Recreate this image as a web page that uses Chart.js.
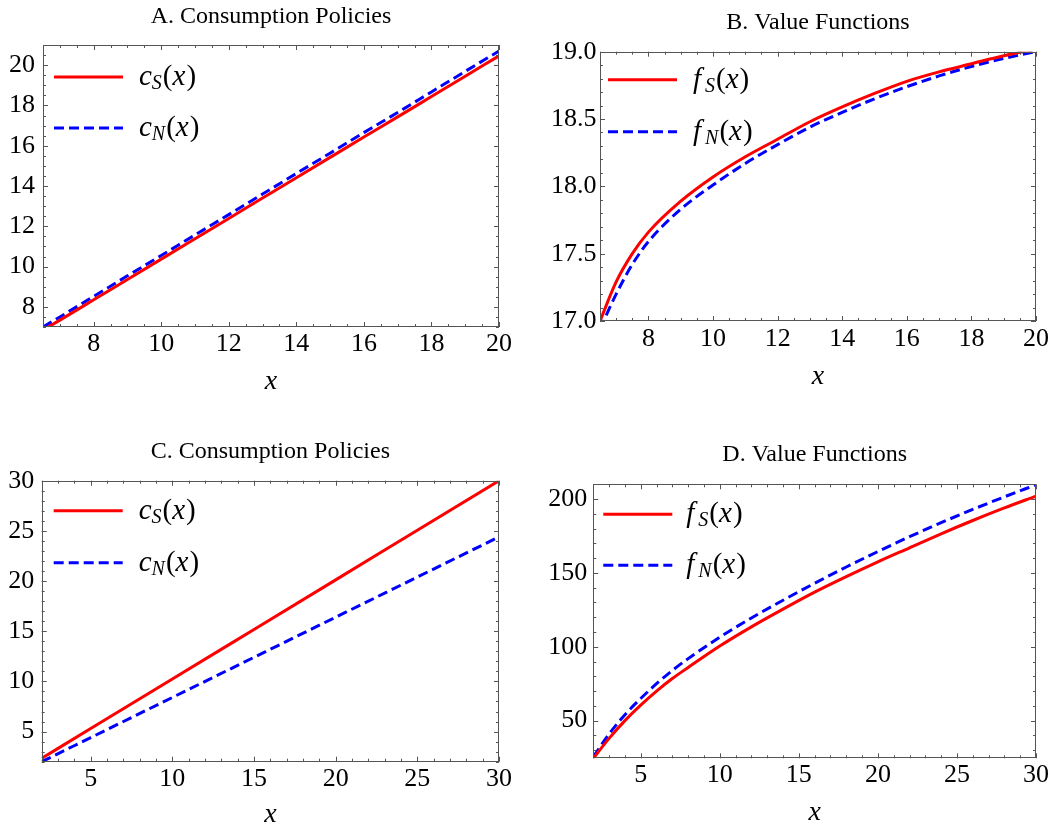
<!DOCTYPE html>
<html>
<head>
<meta charset="utf-8">
<script src="https://cdn.jsdelivr.net/npm/chart.js@4.4.1/dist/chart.umd.min.js"></script>
<style>
  html, body { margin: 0; padding: 0; background: #fff; }
  #wrap { position: relative; width: 1052px; height: 829px; }
  canvas { position: absolute; }
</style>
</head>
<body>
<div id="wrap">
  <canvas id="chartA" width="526" height="414" style="left:0;top:0"></canvas>
  <canvas id="chartB" width="526" height="414" style="left:526px;top:0"></canvas>
  <canvas id="chartC" width="526" height="415" style="left:0;top:414px"></canvas>
  <canvas id="chartD" width="526" height="415" style="left:526px;top:414px"></canvas>
</div>
<script>
// A. consumption policies, small x range
const xA = [6.5, 7, 8, 9, 10, 11, 12, 13, 14, 15, 16, 17, 18, 19, 20];
const cS_A = [6.84, 7.34, 8.35, 9.36, 10.37, 11.38, 12.39, 13.40, 14.41, 15.42, 16.43, 17.43, 18.44, 19.45, 20.46];
const cN_A = [7.00, 7.50, 8.52, 9.54, 10.55, 11.57, 12.58, 13.60, 14.62, 15.63, 16.65, 17.65, 18.67, 19.69, 20.70];
const ticksA_x = [8, 10, 12, 14, 16, 18, 20];
const ticksA_y = [8, 10, 12, 14, 16, 18, 20];

// B. value functions, small x range
const xB = [6.5, 7, 7.5, 8, 9, 10, 11, 12, 13, 14, 15, 16, 17, 18, 19, 20];
const fS_B = [17.00, 17.29, 17.50, 17.66, 17.89, 18.07, 18.22, 18.35, 18.48, 18.59, 18.69, 18.78, 18.85, 18.91, 18.97, 19.02];
const fN_B = [16.94, 17.20, 17.42, 17.59, 17.83, 18.01, 18.17, 18.31, 18.44, 18.55, 18.65, 18.74, 18.82, 18.89, 18.95, 19.00];
const ticksB_x = [8, 10, 12, 14, 16, 18, 20];
const ticksB_y = [17.0, 17.5, 18.0, 18.5, 19.0];

// C. consumption policies, wide x range
const xC = [2, 5, 10, 15, 20, 25, 30];
const cS_C = [2.34, 5.30, 10.24, 15.18, 20.12, 25.06, 30.00];
const cN_C = [2.00, 4.40, 8.40, 12.40, 16.40, 20.40, 24.40];
const ticksC_x = [5, 10, 15, 20, 25, 30];
const ticksC_y = [5, 10, 15, 20, 25, 30];

// D. value functions, wide x range
const xD = [2, 3, 4, 5, 6, 7, 8, 10, 12, 14, 16, 18, 20, 22, 24, 26, 28, 30];
const fS_D = [24.5, 38, 50, 60.5, 70, 78.5, 86, 100.5, 113.5, 125.5, 137, 147.5, 157.5, 167, 176.5, 185.5, 194, 202];
const fN_D = [25.5, 41, 54, 65, 75, 84, 92, 106.5, 119.5, 131.5, 143, 154, 164.5, 174.5, 184, 193, 201.5, 209.7];
const ticksD_x = [5, 10, 15, 20, 25, 30];
const ticksD_y = [50, 100, 150, 200];

const SERIF = "'Liberation Serif', serif";
Chart.defaults.font.family = SERIF;
Chart.defaults.color = '#000';

const FRAME = '#555';

// frame on all four sides with inward major/minor ticks (Mathematica style)
const frameTicks = {
  id: 'frameTicks',
  afterDatasetsDraw(chart, args, opts) {
    const { ctx, chartArea: a, scales: { x, y } } = chart;
    ctx.save();
    ctx.strokeStyle = FRAME;
    ctx.lineWidth = 1;
    ctx.strokeRect(Math.round(a.left) + 0.5, Math.round(a.top) + 0.5,
                   Math.round(a.width) - 1, Math.round(a.height) - 1);
    const marks = (scale, step) => {
      const out = [];
      const majors = scale.ticks.map(t => t.value);
      const k0 = Math.ceil(scale.min / step - 1e-6), k1 = Math.floor(scale.max / step + 1e-6);
      for (let k = k0; k <= k1; k++) {
        const v = k * step;
        const major = majors.some(m => Math.abs(m - v) < step * 0.01);
        out.push({ p: Math.round(scale.getPixelForValue(v)) + 0.5, len: major ? 5 : 3 });
      }
      return out;
    };
    ctx.beginPath();
    marks(x, opts.xMinor).forEach(m => {
      ctx.moveTo(m.p, a.bottom); ctx.lineTo(m.p, a.bottom - m.len);
      ctx.moveTo(m.p, a.top); ctx.lineTo(m.p, a.top + m.len);
    });
    marks(y, opts.yMinor).forEach(m => {
      ctx.moveTo(a.left, m.p); ctx.lineTo(a.left + m.len, m.p);
      ctx.moveTo(a.right, m.p); ctx.lineTo(a.right - m.len, m.p);
    });
    ctx.stroke();
    ctx.restore();
  }
};

// legend with subscripts, drawn inside the frame
const mathLegend = {
  id: 'mathLegend',
  afterDraw(chart, args, opts) {
    const { ctx, chartArea: a } = chart;
    chart.data.datasets.forEach((ds, i) => {
      const y = a.top + opts.rows[i];
      const x0 = a.left + opts.lineX;
      ctx.save();
      ctx.strokeStyle = ds.borderColor;
      ctx.lineWidth = ds.borderWidth;
      ctx.setLineDash(ds.borderDash || []);
      ctx.beginPath();
      ctx.moveTo(x0, y);
      ctx.lineTo(x0 + opts.lineLen, y);
      ctx.stroke();
      ctx.setLineDash([]);
      ctx.fillStyle = '#000';
      ctx.textBaseline = 'alphabetic';
      ctx.textAlign = 'left';
      const base = y + 8;
      let tx = a.left + opts.textX;
      ctx.font = 'italic 29px ' + SERIF;
      ctx.fillText(ds.sym, tx, base);
      tx += ctx.measureText(ds.sym).width + (ds.sym === 'f' ? 4 : 0);
      ctx.font = 'italic 20px ' + SERIF;
      ctx.fillText(ds.sub, tx, base + 4);
      tx += ctx.measureText(ds.sub).width + 1;
      ctx.font = '29px ' + SERIF;
      ctx.fillText('(', tx, base);
      tx += ctx.measureText('(').width;
      ctx.font = 'italic 29px ' + SERIF;
      ctx.fillText('x', tx, base);
      tx += ctx.measureText('x').width + 1;
      ctx.font = '29px ' + SERIF;
      ctx.fillText(')', tx, base);
      ctx.restore();
    });
  }
};

function panel(id, p) {
  const pts = (xs, ys) => xs.map((v, i) => ({ x: v, y: ys[i] }));
  return new Chart(document.getElementById(id), {
    type: 'line',
    data: {
      datasets: [
        {
          data: pts(p.xs, p.s), sym: p.sym, sub: 'S',
          borderColor: '#ff0000', borderWidth: 3,
          pointRadius: 0, cubicInterpolationMode: 'monotone', fill: false
        },
        {
          data: pts(p.xs, p.n), sym: p.sym, sub: 'N',
          borderColor: '#0000ff', borderWidth: 3, borderDash: [10, 5],
          pointRadius: 0, cubicInterpolationMode: 'monotone', fill: false
        }
      ]
    },
    options: {
      responsive: false,
      animation: false,
      layout: { padding: { left: 0, top: 0, right: p.padRight, bottom: 0 } },
      scales: {
        x: {
          type: 'linear', min: p.xMin, max: p.xMax,
          afterBuildTicks: s => { s.ticks = p.xTicks.map(v => ({ value: v })); },
          afterFit: s => { s.height = p.xHeight; },
          grid: { display: false, drawTicks: false },
          border: { display: false },
          ticks: { autoSkip: false, maxRotation: 0, padding: p.xTickPad,
                   font: { family: SERIF, size: 26 } },
          title: {
            display: true, text: 'x',
            font: { family: SERIF, size: 28, style: 'italic', lineHeight: 1 },
            padding: { top: 0, bottom: p.xTitlePad }
          }
        },
        y: {
          type: 'linear', min: p.yMin, max: p.yMax,
          afterBuildTicks: s => { s.ticks = p.yTicks.map(v => ({ value: v })); },
          afterFit: s => { s.width = p.yWidth; },
          grid: { display: false, drawTicks: false },
          border: { display: false },
          ticks: {
            autoSkip: false, padding: p.yTickPad, font: { family: SERIF, size: 26 },
            callback: v => p.yFmt ? v.toFixed(p.yFmt) : String(v)
          }
        }
      },
      plugins: {
        legend: { display: false },
        tooltip: { enabled: false },
        title: {
          display: true, text: p.title, color: '#000', fullSize: false,
          font: { family: SERIF, size: 24, weight: 'normal', lineHeight: 1.2 },
          padding: { top: p.titleTop, bottom: p.titleBottom }
        },
        frameTicks: { xMinor: p.xMinor, yMinor: p.yMinor },
        mathLegend: p.legend
      }
    },
    plugins: [frameTicks, mathLegend]
  });
}

panel('chartA', {
  title: 'A. Consumption Policies', sym: 'c',
  xs: xA, s: cS_A, n: cN_A,
  xMin: 6.5, xMax: 20, yMin: 7, yMax: 21,
  xTicks: ticksA_x, yTicks: ticksA_y, xMinor: 0.5, yMinor: 0.5,
  padRight: 27, yWidth: 43, xHeight: 87,
  xTickPad: 2, yTickPad: 8, xTitlePad: 18,
  titleTop: 2.6, titleBottom: 13.6,
  legend: { lineX: 11, lineLen: 69, textX: 96, rows: [32, 83] }
});

panel('chartB', {
  title: 'B. Value Functions', sym: 'f', yFmt: 1,
  xs: xB, s: fS_B, n: fN_B,
  xMin: 6.5, xMax: 20, yMin: 17, yMax: 19,
  xTicks: ticksB_x, yTicks: ticksB_y, xMinor: 0.5, yMinor: 0.1,
  padRight: 16, yWidth: 74, xHeight: 93,
  xTickPad: 2.5, yTickPad: 3.5, xTitlePad: 23,
  titleTop: 8.6, titleBottom: 14.3,
  legend: { lineX: 8, lineLen: 69, textX: 93, rows: [28, 80] }
});

panel('chartC', {
  title: 'C. Consumption Policies', sym: 'c',
  xs: xC, s: cS_C, n: cN_C,
  xMin: 2, xMax: 30, yMin: 2, yMax: 30,
  xTicks: ticksC_x, yTicks: ticksC_y, xMinor: 1, yMinor: 1,
  padRight: 27, yWidth: 41.7, xHeight: 67.3,
  xTickPad: 1.8, yTickPad: 7.5, xTitlePad: 0,
  titleTop: 23.6, titleBottom: 14.3,
  legend: { lineX: 12, lineLen: 69, textX: 97, rows: [30, 82] }
});

panel('chartD', {
  title: 'D. Value Functions', sym: 'f',
  xs: xD, s: fS_D, n: fN_D,
  xMin: 2, xMax: 30, yMin: 24.5, yMax: 210,
  xTicks: ticksD_x, yTicks: ticksD_y, xMinor: 1, yMinor: 10,
  padRight: 16, yWidth: 67.3, xHeight: 70.7,
  xTickPad: 1.7, yTickPad: 6, xTitlePad: 2.7,
  titleTop: 26.6, titleBottom: 14.9,
  legend: { lineX: 10, lineLen: 69, textX: 93, rows: [30, 81] }
});
</script>
</body>
</html>
